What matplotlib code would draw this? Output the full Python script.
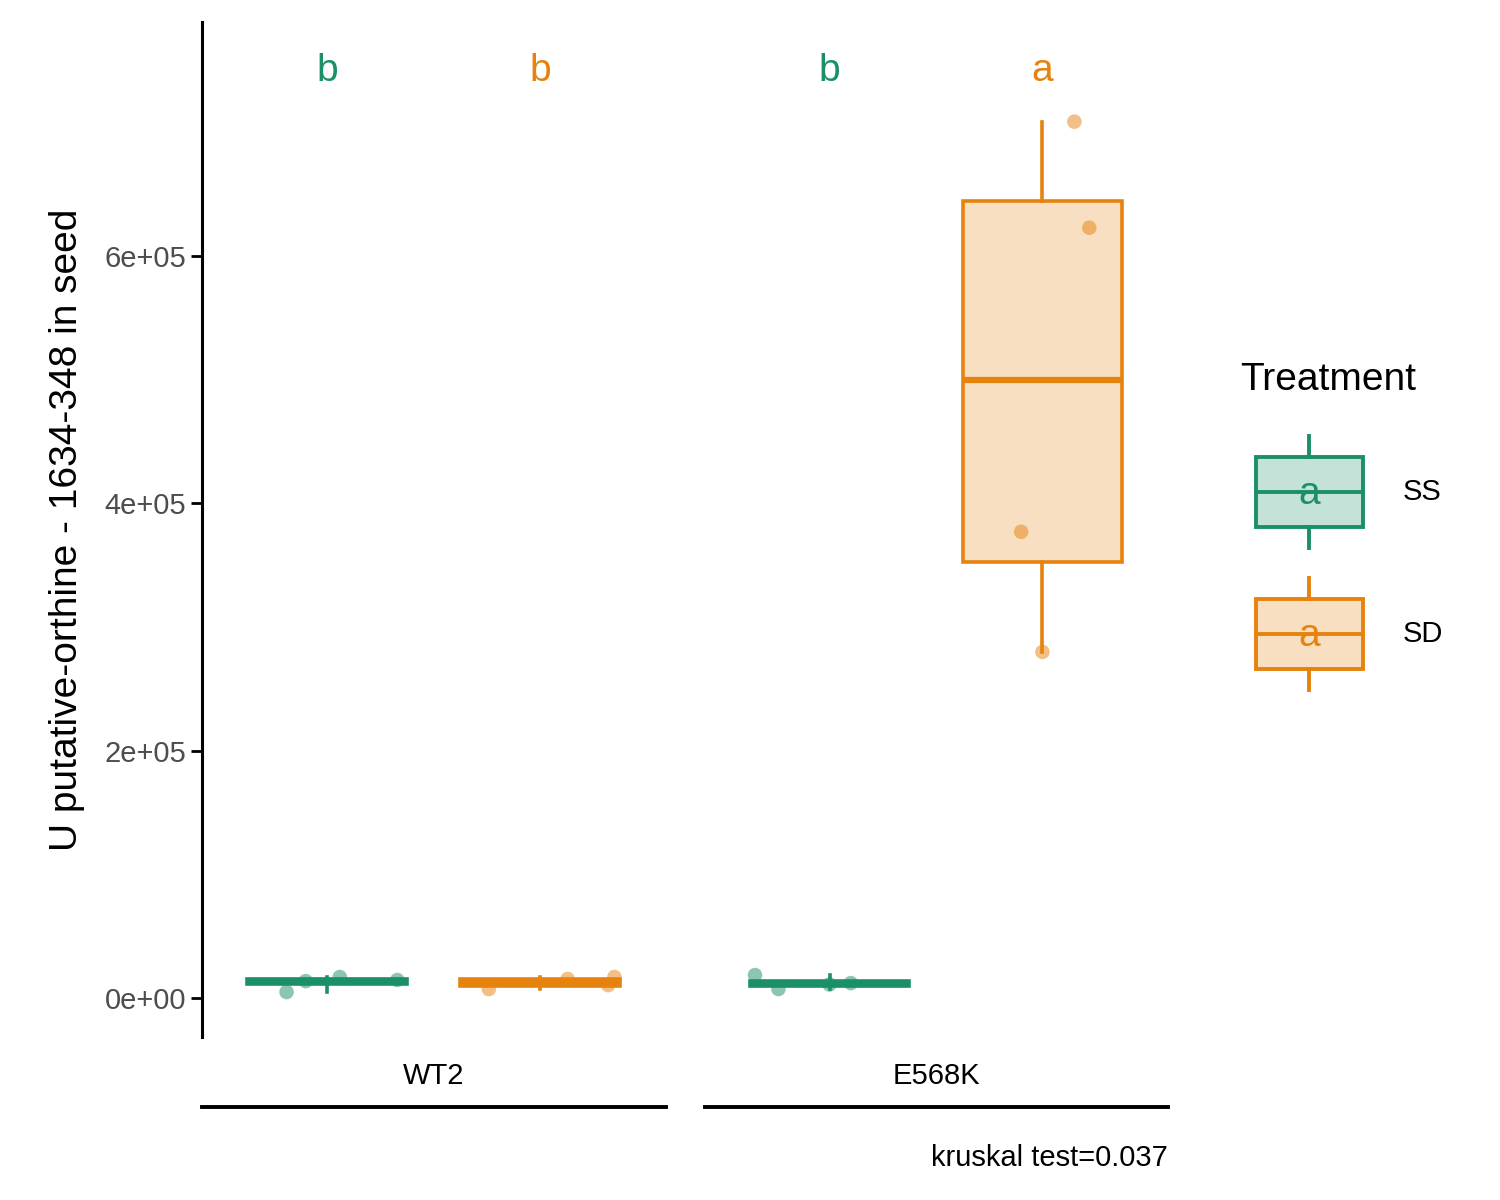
import matplotlib
matplotlib.use("Agg")
import matplotlib.pyplot as plt
import numpy as np
from matplotlib.patches import Rectangle

plt.rcParams['font.family'] = ['Liberation Sans', 'DejaVu Sans']

groups = ["WT2", "E568K"]
treatments = ["SS", "SD"]
colors = {"SS": "#1B8F68", "SD": "#E6820E"}
values = {
    ("WT2", "SS"): [4900, 13700, 17000, 14600],
    ("WT2", "SD"): [7300, 15400, 10500, 17000],
    ("E568K", "SS"): [18600, 7300, 12100, 11000],
    ("E568K", "SD"): [708400, 622700, 376900, 279800],
}
jitter = {
    ("WT2", "SS"): [-0.19, -0.10, 0.06, 0.33],
    ("WT2", "SD"): [-0.24, 0.13, 0.32, 0.35],
    ("E568K", "SS"): [-0.35, -0.24, 0.10, 0.0],
    ("E568K", "SD"): [0.15, 0.22, -0.10, 0.0],
}
letters = {("WT2", "SS"): "b", ("WT2", "SD"): "b", ("E568K", "SS"): "b", ("E568K", "SD"): "a"}
positions = {("WT2", "SS"): 1.0, ("WT2", "SD"): 2.0, ("E568K", "SS"): 3.36, ("E568K", "SD"): 4.36}

fig = plt.figure(figsize=(15, 12), dpi=100)
ax = fig.add_axes([0.1347, 0.1358, 0.644, 0.8459])
for key, vals in values.items():
    c = colors[key[1]]
    p = positions[key]
    ax.boxplot([vals], positions=[p], widths=0.75, whis=(0, 100), patch_artist=True,
               showcaps=False, manage_ticks=False,
               boxprops=dict(facecolor=matplotlib.colors.to_rgba(c, 0.25), edgecolor=c, linewidth=2.6),
               medianprops=dict(color=c, linewidth=4.5),
               whiskerprops=dict(color=c, linewidth=2.6), flierprops=dict(marker=''))
    ax.scatter(np.array(jitter[key]) + p, vals, s=110, color=c, alpha=0.5, edgecolors='none', zorder=3)
    ax.text(p, 749000, letters[key], color=c, fontsize=28, ha='center', va='center')

ax.set_xlim(0.413, 4.95)
ax.set_ylim(-31500, 789000)
yt = [0, 200000, 400000, 600000]
ax.set_yticks(yt)
ax.set_yticklabels(["0e+00", "2e+05", "4e+05", "6e+05"], fontsize=21, color='#4d4d4d')
ax.set_xticks([])
for s in ["top", "right", "bottom"]:
    ax.spines[s].set_visible(False)
ax.spines["left"].set_linewidth(2.2)
ax.tick_params(axis='y', length=8, width=2)
ax.set_ylabel("U putative-orthine - 1634-348 in seed", fontsize=28, labelpad=14)

# facet labels
for g, (x0, x1) in zip(groups, [(202, 666), (705, 1168)]):
    fig.text((x0 + x1) / 2 / 1500, 1 - 1076 / 1200, g, ha='center', va='center', fontsize=21)
    fig.add_artist(plt.Line2D([x0 / 1500, x1 / 1500], [1 - 1107 / 1200] * 2, color='black', lw=2.8))
fig.text(1168 / 1500, 1 - 1158 / 1200, "kruskal test=0.037", ha='right', va='center', fontsize=21)

# legend
fig.text(1240 / 1500, 1 - 380 / 1200, "Treatment", fontsize=28, va='center')
for i, t in enumerate(treatments):
    c = colors[t]
    cy = 492 + i * 142
    def fx(px): return px / 1500
    def fy(py): return 1 - py / 1200
    fig.add_artist(Rectangle((fx(1256), fy(cy + 35)), 107 / 1500, 70 / 1200,
                             facecolor=matplotlib.colors.to_rgba(c, 0.25), edgecolor=c, lw=2.8))
    fig.add_artist(plt.Line2D([fx(1256), fx(1363)], [fy(cy)] * 2, color=c, lw=2.8))
    fig.add_artist(plt.Line2D([fx(1309)] * 2, [fy(cy - 56), fy(cy - 35)], color=c, lw=2.8))
    fig.add_artist(plt.Line2D([fx(1309)] * 2, [fy(cy + 35), fy(cy + 56)], color=c, lw=2.8))
    fig.text(fx(1309), fy(cy + 2), "a", color=c, fontsize=28, ha='center', va='center')
    fig.text(fx(1403), fy(cy), t, fontsize=21, va='center')

fig.savefig("out.png", dpi=100)
